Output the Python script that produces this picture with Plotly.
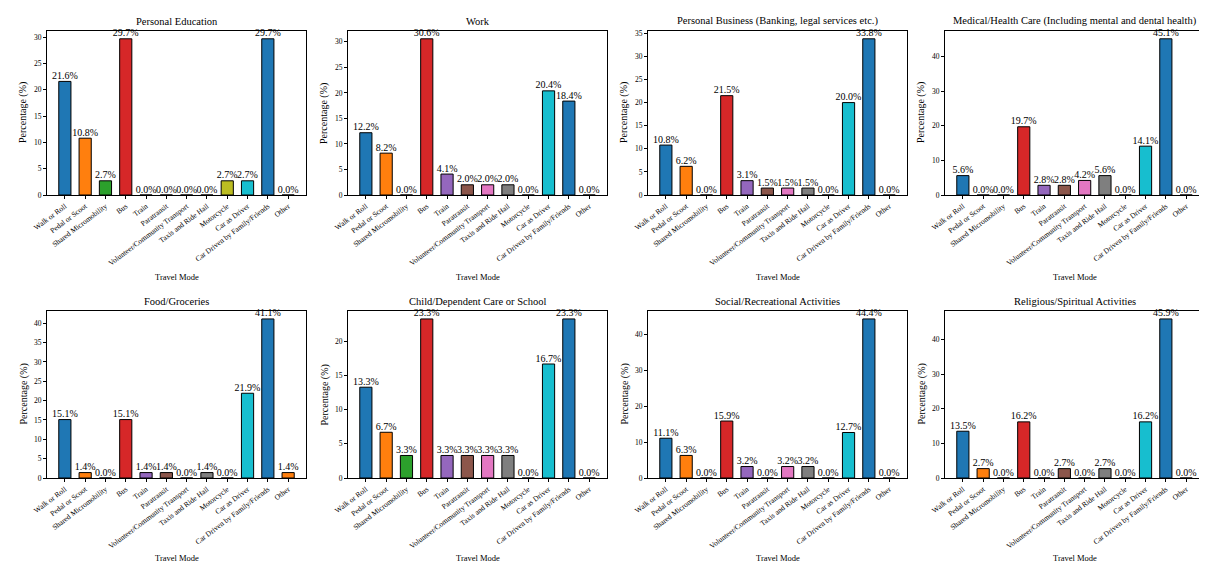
import plotly.graph_objects as go

modes = ["Walk or Roll", "Pedal or Scoot", "Shared Micromobility", "Bus", "Train",
         "Paratransit", "Volunteer/Community Transport", "Taxis and Ride Hail",
         "Motorcycle", "Car as Driver", "Car Driven by Family/Friends", "Other"]

titles = ["Personal Education", "Work",
          "Personal Business (Banking, legal services etc.)",
          "Medical/Health Care (Including mental and dental health)",
          "Food/Groceries", "Child/Dependent Care or School",
          "Social/Recreational Activities", "Religious/Spiritual Activities"]

personal_education = [21.6, 10.8, 2.7, 29.7, 0.0, 0.0, 0.0, 0.0, 2.7, 2.7, 29.7, 0.0]
work = [12.2, 8.2, 0.0, 30.6, 4.1, 2.0, 2.0, 2.0, 0.0, 20.4, 18.4, 0.0]
personal_business = [10.8, 6.2, 0.0, 21.5, 3.1, 1.5, 1.5, 1.5, 0.0, 20.0, 33.8, 0.0]
medical = [5.6, 0.0, 0.0, 19.7, 2.8, 2.8, 4.2, 5.6, 0.0, 14.1, 45.1, 0.0]
food = [15.1, 1.4, 0.0, 15.1, 1.4, 1.4, 0.0, 1.4, 0.0, 21.9, 41.1, 1.4]
child_care = [13.3, 6.7, 3.3, 23.3, 3.3, 3.3, 3.3, 3.3, 0.0, 16.7, 23.3, 0.0]
social = [11.1, 6.3, 0.0, 15.9, 3.2, 0.0, 3.2, 3.2, 0.0, 12.7, 44.4, 0.0]
religious = [13.5, 2.7, 0.0, 16.2, 0.0, 2.7, 0.0, 2.7, 0.0, 16.2, 45.9, 0.0]

series = [personal_education, work, personal_business, medical,
          food, child_care, social, religious]
y_dtick = [5, 5, 5, 10, 5, 5, 10, 10]

colors = ['#1f77b4', '#ff7f0e', '#2ca02c', '#d62728', '#9467bd', '#8c564b',
          '#e377c2', '#7f7f7f', '#bcbd22', '#17becf', '#1f77b4', '#ff7f0e']

W, H = 1207, 567
lefts = [39, 340, 640, 937]
pw = 259
tops = [23, 303]
bottoms = [187, 470]
xtitle_y = [269, 550]
FONT = "Liberation Serif"

fig = go.Figure()
annotations = []
layout = {}
xidx = list(range(len(modes)))
for i, vals in enumerate(series):
    r, c = divmod(i, 4)
    n = i + 1
    xa = "x" if n == 1 else f"x{n}"
    ya = "y" if n == 1 else f"y{n}"
    fig.add_trace(go.Bar(x=xidx, y=vals, marker=dict(color=colors, line=dict(color="black", width=1)),
                         width=0.6, xaxis=xa, yaxis=ya, showlegend=False))
    fig.add_trace(go.Scatter(x=xidx, y=vals, mode="text", text=[f"{v:.1f}%" for v in vals],
                             textposition="top center", textfont=dict(family=FONT, size=10, color="black"),
                             cliponaxis=False, xaxis=xa, yaxis=ya, showlegend=False, hoverinfo="skip"))
    x0 = lefts[c] / W
    x1 = (lefts[c] + pw) / W
    y1 = 1 - tops[r] / H
    y0 = 1 - bottoms[r] / H
    ymax = max(vals) * 1.05
    axkey = "xaxis" if n == 1 else f"xaxis{n}"
    aykey = "yaxis" if n == 1 else f"yaxis{n}"
    layout[axkey] = dict(domain=[x0, x1], anchor=ya, range=[-0.88, 11.88],
                         tickmode="array", tickvals=xidx, ticktext=modes, tickangle=-37,
                         tickfont=dict(family=FONT, size=7.5, color="black"),
                         showline=True, mirror=True, linecolor="black", linewidth=1,
                         ticks="outside", ticklen=3, tickcolor="black", showgrid=False, zeroline=False,
                         automargin=False)
    layout[aykey] = dict(domain=[y0, y1], anchor=xa, range=[0, ymax], dtick=y_dtick[i],
                         tick0=0, tickfont=dict(family=FONT, size=7.5, color="black"),
                         showline=True, mirror=True, linecolor="black", linewidth=1,
                         ticks="outside", ticklen=3, tickcolor="black", showgrid=False, zeroline=False,
                         automargin=False)
    annotations.append(dict(text=titles[i], x=(x0 + x1) / 2, y=y1, xref="paper", yref="paper",
                            xanchor="center", yanchor="bottom", yshift=2, showarrow=False,
                            font=dict(family=FONT, size=10.5, color="black")))
    annotations.append(dict(text="Travel Mode", x=(x0 + x1) / 2, y=1 - xtitle_y[r] / H,
                            xref="paper", yref="paper", xanchor="center", yanchor="middle",
                            showarrow=False, font=dict(family=FONT, size=8.5, color="black")))
    annotations.append(dict(text="Percentage (%)", x=(lefts[c] - 24) / W, y=(y0 + y1) / 2,
                            xref="paper", yref="paper", xanchor="center", yanchor="middle",
                            textangle=-90, showarrow=False,
                            font=dict(family=FONT, size=10, color="black")))

fig.update_layout(**layout)
fig.update_layout(width=W, height=H, margin=dict(l=0, r=0, t=0, b=0),
                  paper_bgcolor="white", plot_bgcolor="white",
                  annotations=annotations, bargap=0.4,
                  font=dict(family=FONT, color="black"))
fig.write_html("out.html")
